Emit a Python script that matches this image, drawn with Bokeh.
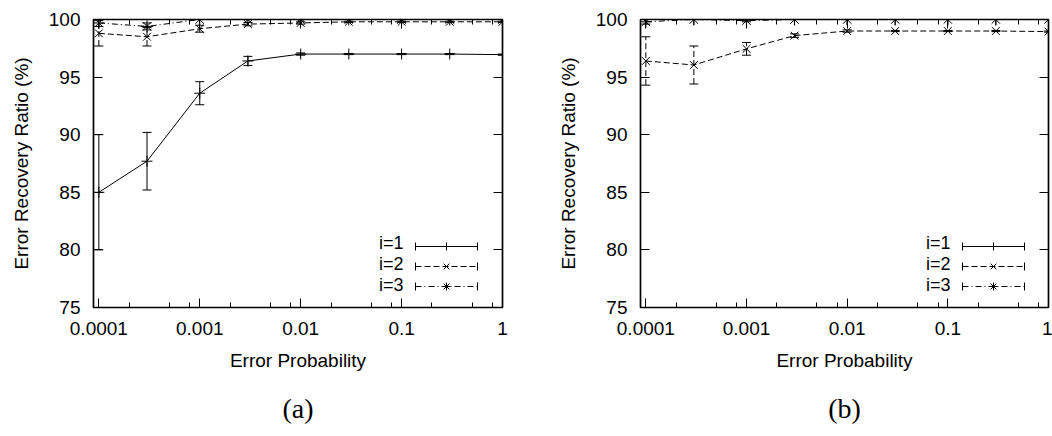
from bokeh.plotting import figure
from bokeh.layouts import row
from bokeh.models import (ColumnDataSource, Whisker, TeeHead, FixedTicker, CustomJSTickFormatter,
                          LogAxis, LinearAxis, Legend, LegendItem, Range1d, Arrow)
from bokeh.embed import file_html
from bokeh.resources import INLINE

# ---------------- data ----------------
x_prob = [0.0001, 0.0003, 0.001, 0.003, 0.01, 0.03, 0.1, 0.3, 1.0]
x_ticks = [0.0001, 0.001, 0.01, 0.1, 1.0]
x_tick_labels = ["0.0001", "0.001", "0.01", "0.1", "1"]
y_ticks = [75, 80, 85, 90, 95, 100]
series_labels = ["i=1", "i=2", "i=3"]
captions = ["(a)", "(b)"]

# panel (a)
a_i1 = [85.0, 87.7, 93.6, 96.4, 97.0, 97.0, 97.0, 97.0, 96.95]
a_i1_err = [5.0, 2.5, 1.0, 0.4, 0.1, 0.05, 0.05, 0.05, 0.05]
a_i2 = [98.8, 98.5, 99.2, 99.6, 99.7, 99.8, 99.8, 99.8, 99.8]
a_i2_err = [1.1, 0.8, 0.3, 0.15, 0.1, 0.05, 0.05, 0.05, 0.05]
a_i3 = [99.7, 99.4, 100.0, 100.0, 100.0, 100.0, 100.0, 100.0, 100.0]
a_i3_err = [0.3, 0.3, 0.0, 0.0, 0.0, 0.0, 0.0, 0.0, 0.0]

# panel (b)
b_i1 = [100.0, 100.0, 100.0, 100.0, 100.0, 100.0, 100.0, 100.0, 100.0]
b_i1_err = [0.0, 0.0, 0.0, 0.0, 0.0, 0.0, 0.0, 0.0, 0.0]
b_i2 = [96.4, 96.05, 97.45, 98.6, 99.0, 99.0, 99.0, 99.0, 98.95]
b_i2_err = [2.1, 1.65, 0.55, 0.15, 0.1, 0.05, 0.05, 0.05, 0.05]
b_i3 = [99.8, 100.0, 99.9, 100.0, 100.0, 100.0, 100.0, 100.0, 100.0]
b_i3_err = [0.2, 0.0, 0.1, 0.0, 0.0, 0.0, 0.0, 0.0, 0.0]

# ---------------- style ----------------
FONT = "Liberation Sans"
DASHES = ["solid", "6 3", "6 3 1 3"]
MARKERS = ["cross", "x", "asterisk"]
MSIZES = [11, 11, 12]

minor_x = [m * 10.0 ** k for k in range(-4, 0) for m in (2, 5, 8)]


def make_panel(series, caption, width, border_left, border_right):
    p = figure(width=width, height=436, x_axis_type="log",
               x_range=Range1d(8.85e-5, 1.0), y_range=Range1d(75, 100),
               output_backend="svg", toolbar_location=None,
               min_border_left=border_left, min_border_right=border_right,
               min_border_top=19, min_border_bottom=129)
    p.grid.visible = False
    p.outline_line_color = "black"
    p.outline_line_width = 1.7
    p.background_fill_color = "white"
    p.border_fill_color = "white"

    xticker = FixedTicker(ticks=x_ticks, minor_ticks=minor_x)
    xfmt = CustomJSTickFormatter(args=dict(xt=x_ticks, xl=x_tick_labels), code="""
        const i = xt.findIndex(t => Math.abs(Math.log10(t) - Math.log10(tick)) < 1e-6);
        return i >= 0 ? xl[i] : '';
    """)
    blank = CustomJSTickFormatter(code="return '';")
    yticker = FixedTicker(ticks=y_ticks, minor_ticks=[])

    xa = p.xaxis[0]
    xa.ticker = xticker
    xa.formatter = xfmt
    ya = p.yaxis[0]
    ya.ticker = yticker

    for ax in (xa, ya):
        ax.axis_line_color = None
        ax.major_tick_in = 9
        ax.major_tick_out = 0
        ax.minor_tick_in = 5
        ax.minor_tick_out = 0
        ax.major_tick_line_color = "black"
        ax.minor_tick_line_color = "black"
        ax.major_label_text_font = FONT
        ax.major_label_text_font_size = "19px"
        ax.major_label_text_color = "black"
        ax.axis_label_text_font = FONT
        ax.axis_label_text_font_size = "19px"
        ax.axis_label_text_font_style = "normal"
        ax.axis_label_text_color = "black"
    xa.axis_label = "Error Probability"
    xa.major_label_standoff = 14
    xa.axis_label_standoff = 12
    ya.axis_label = "Error Recovery Ratio (%)"
    ya.major_label_standoff = 13
    ya.axis_label_standoff = 14

    # mirrored ticks (top / right), no labels
    top = LogAxis(ticker=xticker, formatter=blank)
    right = LinearAxis(ticker=yticker, formatter=blank)
    for ax in (top, right):
        ax.axis_line_color = None
        ax.major_tick_in = 9
        ax.major_tick_out = 0
        ax.minor_tick_in = 5
        ax.minor_tick_out = 0
        ax.major_label_standoff = 0
    p.add_layout(top, "above")
    p.add_layout(right, "right")

    # caption below the axis title
    cap = LinearAxis(ticker=FixedTicker(ticks=[], minor_ticks=[]), axis_label=caption,
                     axis_line_color=None, major_tick_line_color=None,
                     minor_tick_line_color=None, major_label_standoff=0,
                     axis_label_standoff=19, axis_label_text_font="Liberation Serif",
                     axis_label_text_font_size="28px", axis_label_text_font_style="normal",
                     axis_label_text_color="black")
    p.add_layout(cap, "below")

    glyph_items = []
    text_items = []
    for k, (ys, es) in enumerate(series):
        upper = [y + e for y, e in zip(ys, es)]
        lower = [y - e for y, e in zip(ys, es)]
        src = ColumnDataSource(dict(x=x_prob, y=ys, upper=upper, lower=lower))
        w = Whisker(base="x", upper="upper", lower="lower", source=src, dimension="height",
                    line_color="black", line_width=1, line_dash=DASHES[k],
                    upper_head=TeeHead(size=9, line_color="black", line_width=1),
                    lower_head=TeeHead(size=9, line_color="black", line_width=1))
        p.add_layout(w)
        lr = p.line("x", "y", source=src, line_color="black", line_width=1, line_dash=DASHES[k])
        sr = p.scatter("x", "y", source=src, marker=MARKERS[k], size=MSIZES[k],
                       line_color="black", line_width=1)
        ghost = p.line("x", "y", source=src, line_alpha=0)
        glyph_items.append(LegendItem(label=" ", renderers=[lr, sr]))
        text_items.append(LegendItem(label=series_labels[k], renderers=[ghost]))
        # error-bar style end caps of the key sample
        row_y = 61 - 20 * k
        p.add_layout(Arrow(x_start=322, y_start=row_y, x_end=384, y_end=row_y,
                           start_units="screen", end_units="screen", line_alpha=0,
                           start=TeeHead(size=8, line_color="black", line_width=1),
                           end=TeeHead(size=8, line_color="black", line_width=1)))

    common = dict(glyph_height=20, label_height=20, padding=0, margin=0, spacing=0,
                  border_line_color=None, background_fill_alpha=0,
                  label_text_font=FONT, label_text_font_size="18px", label_text_color="black")
    leg_g = Legend(items=glyph_items, location=(322, 11), glyph_width=62, label_standoff=0,
                   label_width=0, **common)
    leg_t = Legend(items=text_items, location=(286, 11), glyph_width=0, label_standoff=0,
                   **common)
    p.add_layout(leg_g)
    p.add_layout(leg_t)
    return p


pa = make_panel([(a_i1, a_i1_err), (a_i2, a_i2_err), (a_i3, a_i3_err)], captions[0], 528, 93, 26)
pb = make_panel([(b_i1, b_i1_err), (b_i2, b_i2_err), (b_i3, b_i3_err)], captions[1], 524, 112, 4)

layout = row(pa, pb)
open("out.html", "w").write(file_html(layout, INLINE))
